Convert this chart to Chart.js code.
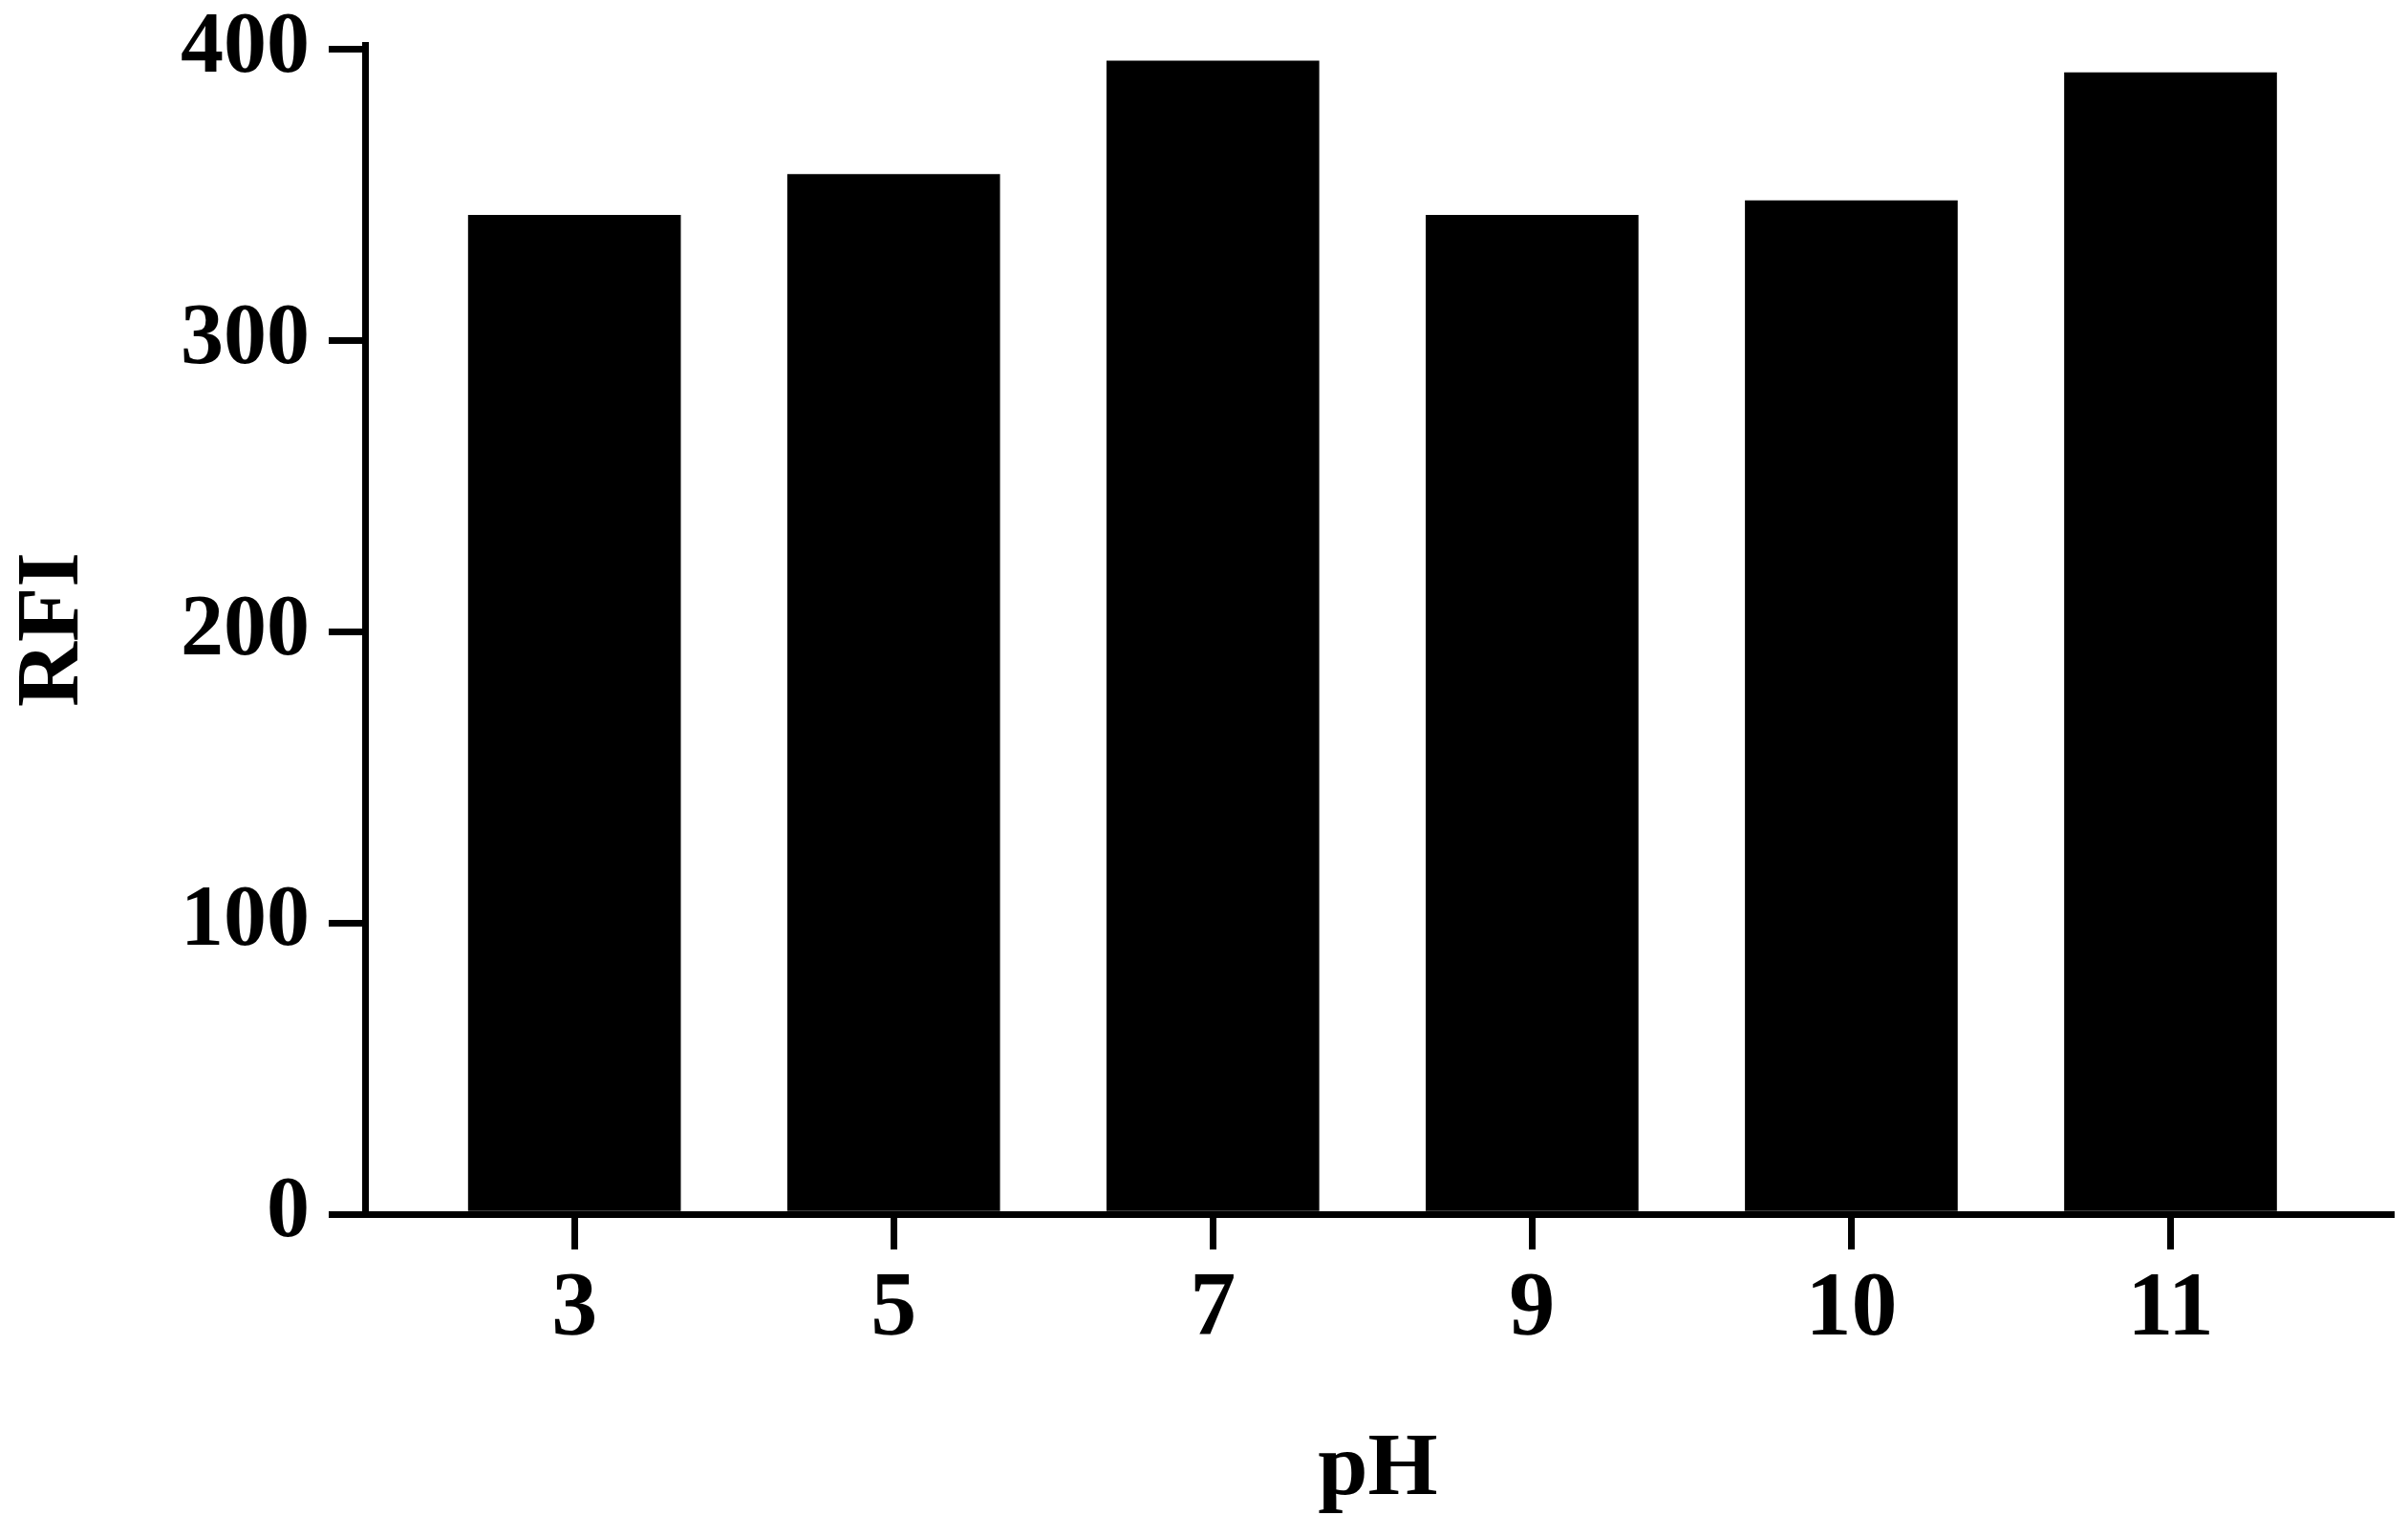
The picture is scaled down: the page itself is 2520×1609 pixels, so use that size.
<!DOCTYPE html>
<html>
<head>
<meta charset="utf-8">
<script src="https://cdn.jsdelivr.net/npm/chart.js@4"></script>
<style>
  html, body { margin: 0; padding: 0; background: #fff; }
  #wrap { width: 2520px; height: 1609px; }
</style>
</head>
<body>
<div id="wrap"><canvas id="myChart" width="2520" height="1609"></canvas></div>
<script>
const phLabels = ["3", "5", "7", "9", "10", "11"];
const rfiValues = [343, 357, 396, 343, 348, 392];
const yTicks = [0, 100, 200, 300, 400];

const serif = "'Liberation Serif', 'Times New Roman', serif";

function tab() {
const ctx = document.getElementById("myChart");

const data = {
	datasets: [
		{
			label: "RFI",
			data: phLabels.map((l, i) => ({ x: i, y: rfiValues[i] })),
			backgroundColor: "#000",
			borderWidth: 0,
			barThickness: 222,
		},
	],
};

const config = {
	type: "bar",
	data: data,
	options: {
		responsive: false,
		animation: false,
		layout: { padding: { top: 47, right: 18, left: 0, bottom: 0 } },
		plugins: {
			legend: { display: false },
			tooltip: { enabled: false },
		},
		scales: {
			x: {
				type: "linear",
				offset: false,
				min: -0.656,
				max: 5.69,
				afterBuildTicks: (scale) => {
					scale.ticks = phLabels.map((l, i) => ({ value: i }));
				},
				afterFit: (scale) => {
					scale.height = 338;
					scale.paddingLeft = 0;
					scale.paddingRight = 0;
				},
				ticks: {
					callback: (v) => phLabels[v],
					color: "#000",
					padding: 16,
					maxRotation: 0,
					autoSkip: false,
					font: { family: serif, size: 96, weight: "bold", lineHeight: 1 },
				},
				grid: {
					offset: false,
					drawOnChartArea: false,
					drawTicks: true,
					tickLength: 37,
					color: "#000",
					lineWidth: 7,
				},
				border: { display: true, color: "#000", width: 7 },
				title: {
					display: true,
					text: "pH",
					color: "#000",
					padding: { top: 0, bottom: 22 },
					font: { family: serif, size: 94, weight: "bold", lineHeight: 1 },
				},
			},
			y: {
				min: 0,
				max: 401.5,
				afterBuildTicks: (scale) => {
					scale.ticks = yTicks.map((v) => ({ value: v }));
				},
				afterFit: (scale) => {
					scale.width = 382;
					scale.paddingTop = 0;
					scale.paddingBottom = 0;
				},
				ticks: {
					color: "#000",
					padding: 20,
					font: { family: serif, size: 90, weight: "bold", lineHeight: 0.9 },
				},
				grid: {
					drawOnChartArea: false,
					drawTicks: true,
					tickLength: 38,
					color: "#000",
					lineWidth: 7,
				},
				border: { display: true, color: "#000", width: 7 },
				title: {
					display: true,
					text: "RFI",
					color: "#000",
					padding: { top: 10, bottom: 0 },
					font: { family: serif, size: 94, weight: "bold", lineHeight: 1 },
				},
			},
		},
	},
};

new Chart(ctx, config);
}
tab();
</script>
</body>
</html>
